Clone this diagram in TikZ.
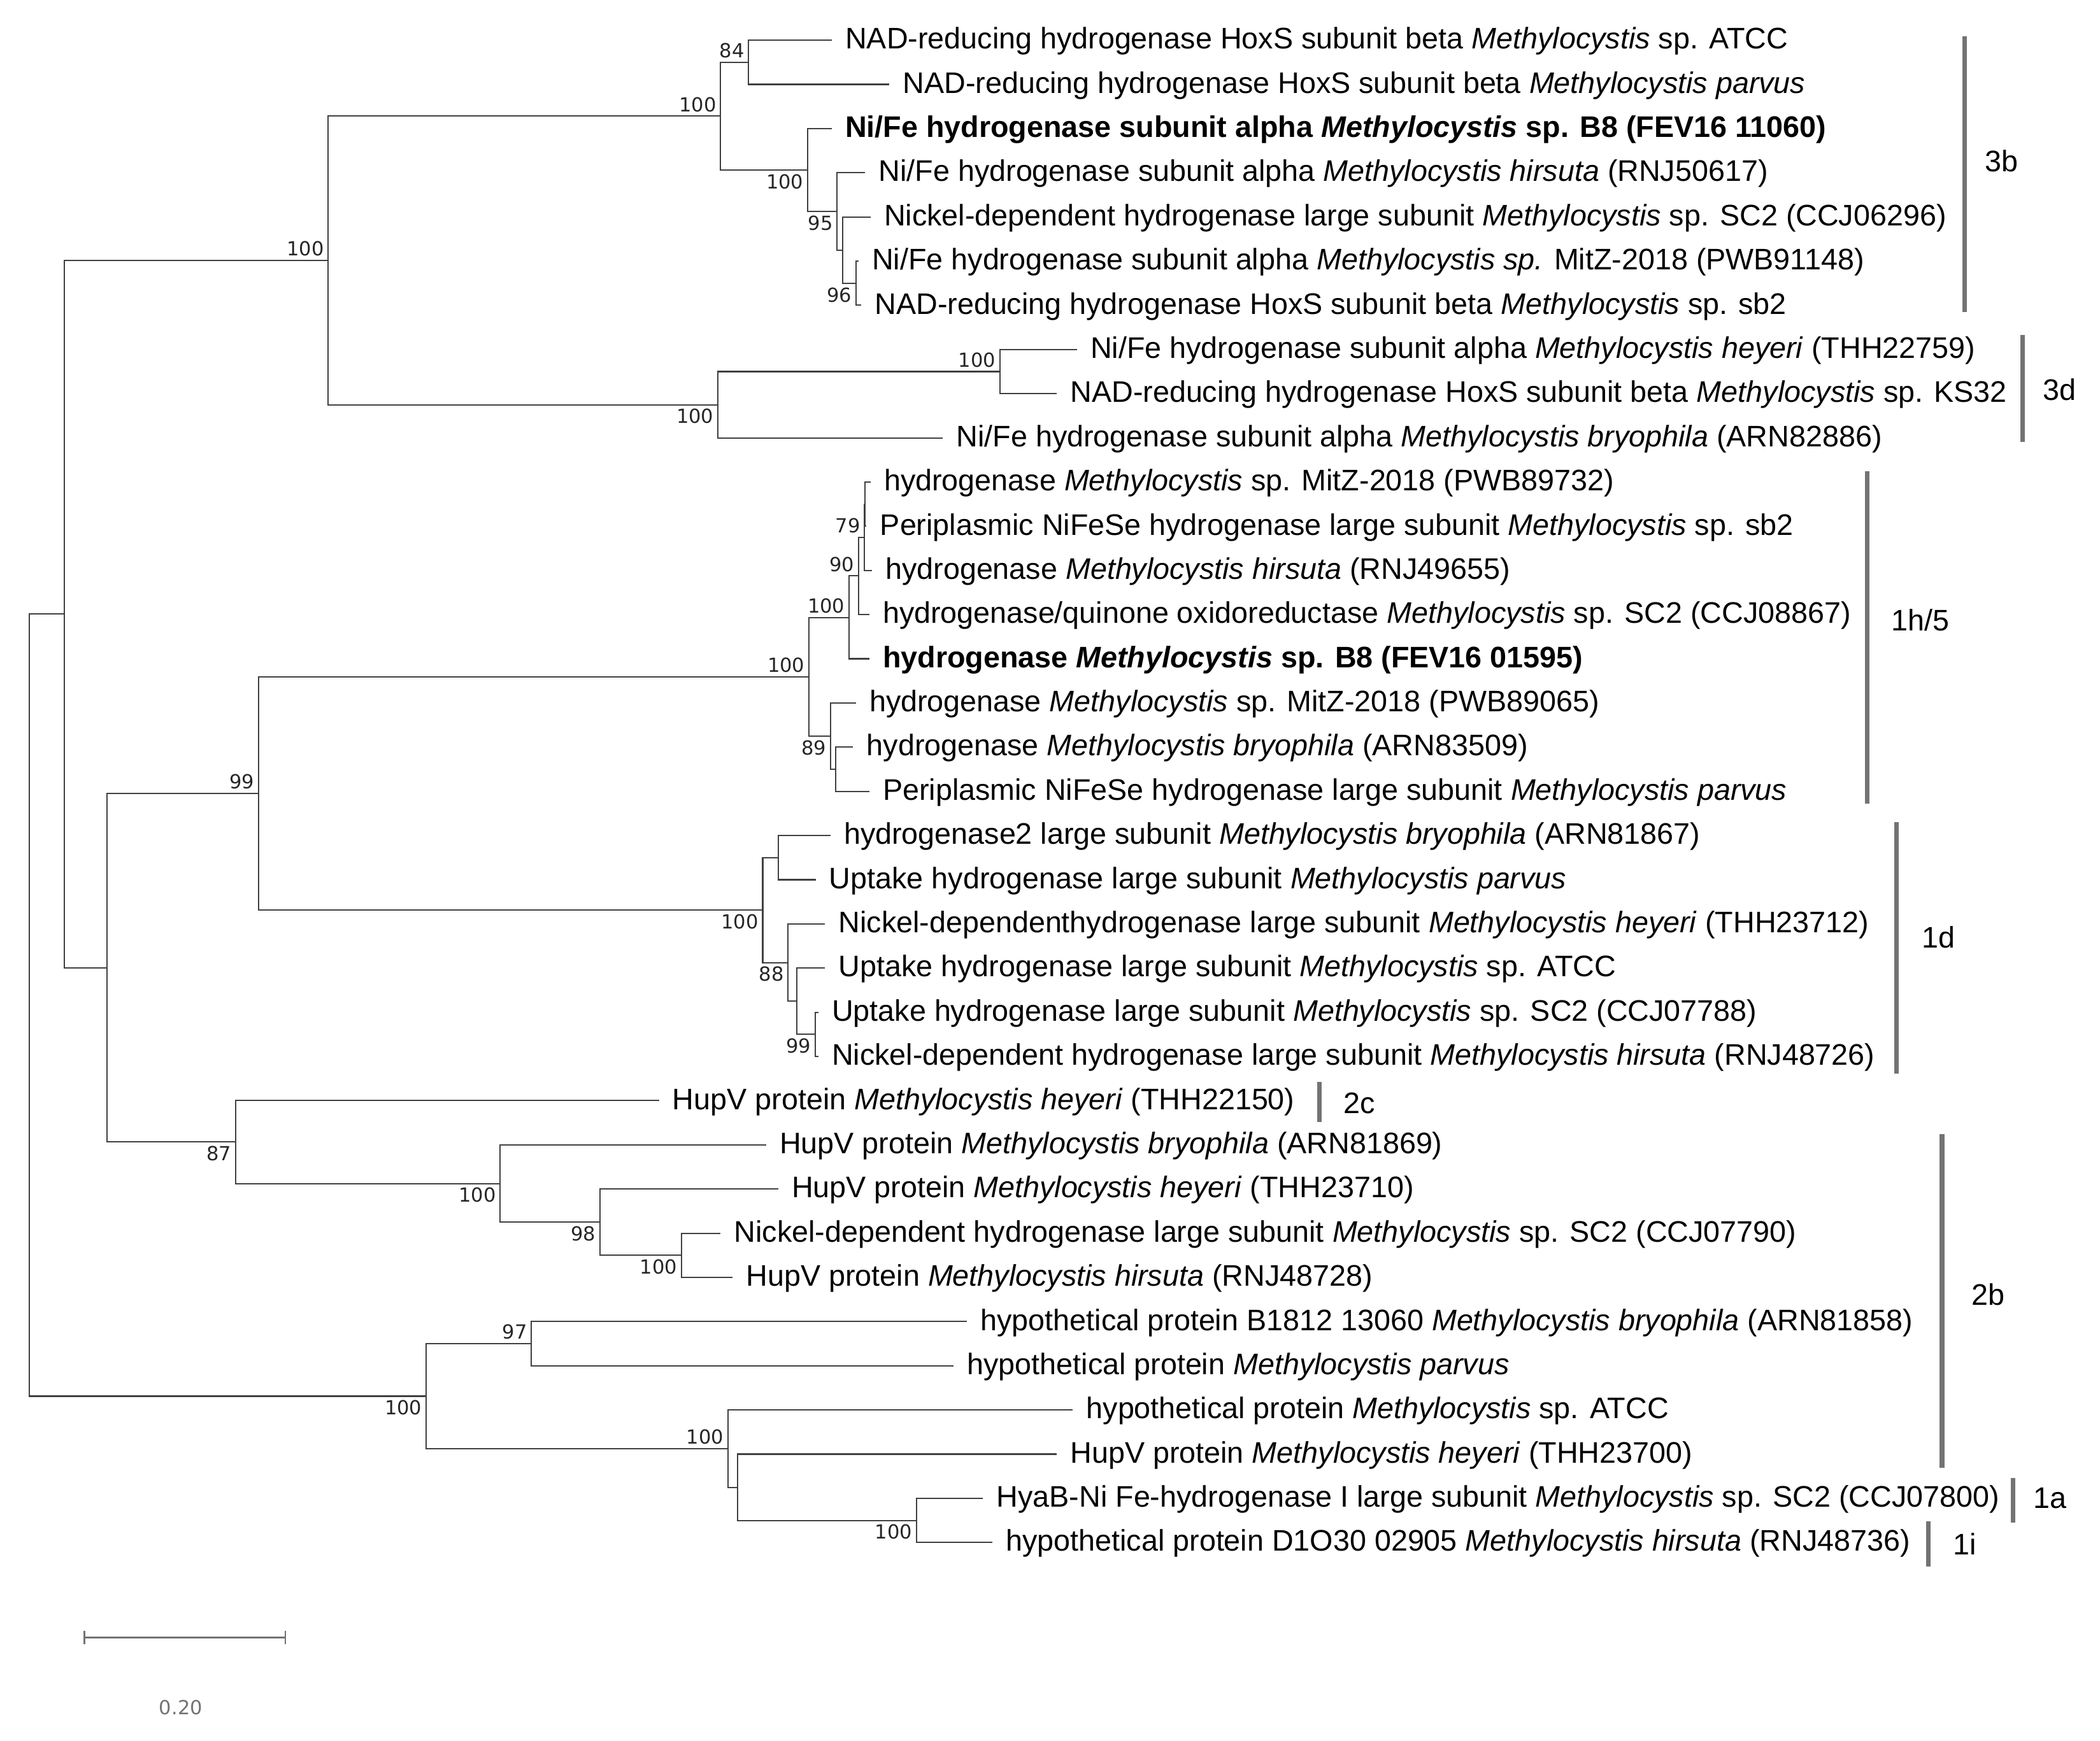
\documentclass[tikz,border=0pt]{standalone}
\usepackage{fontspec}
\setmainfont{Liberation Sans}
\newfontfamily\bsfont{DejaVu Sans}
\tikzset{
    %Define style for branches
    branch/.style={
           draw=black!75,
           line width=1pt},
    %Define style for taxa
    leaf/.style={
           anchor=west,
           inner xsep=10pt, inner ysep=0pt,
           text height=15pt, text depth=2pt,
           font=\fontsize{22.2}{24}\selectfont},
    %Define style for bootstrap values
    bs/.style={
           inner sep=3pt,
           text=black!85,
           font=\bsfont\fontsize{14.5}{16}\selectfont},
    bsa/.style={bs, anchor=south east},
    bsb/.style={bs, anchor=north east},
    % Define style for clade bars
    clade/.style={
           draw=black!55,
           line width=3.4pt},
    cladelab/.style={
           anchor=west, inner sep=0pt,
           font=\fontsize{22.2}{24}\selectfont},
    scalebar/.style={
           draw=black!55,
           line width=1.2pt}
}
\newcommand{\me}{\textit{Methylocystis}}

\begin{document}
\begin{tikzpicture}[x=1pt,y=-1pt]
\useasboundingbox (0,0) rectangle (1568,1300);

 %taxa
\node[leaf] (t1) at (621,30) {NAD-reducing hydrogenase HoxS subunit beta \me{} sp. ATCC};
\node[leaf] (t2) at (664,63) {NAD-reducing hydrogenase HoxS subunit beta \textit{Methylocystis parvus}};
\node[leaf] (t3) at (621,96) {\textbf{Ni/Fe hydrogenase subunit alpha \me{} sp. B8 (FEV16 11060)}};
\node[leaf] (t4) at (646,129) {Ni/Fe hydrogenase subunit alpha \textit{Methylocystis hirsuta} (RNJ50617)};
\node[leaf] (t5) at (650,162) {Nickel-dependent hydrogenase large subunit \me{} sp. SC2 (CCJ06296)};
\node[leaf] (t6) at (641,195) {Ni/Fe hydrogenase subunit alpha \textit{Methylocystis sp.} MitZ-2018 (PWB91148)};
\node[leaf] (t7) at (643,228) {NAD-reducing hydrogenase HoxS subunit beta \me{} sp. sb2};
\node[leaf] (t8) at (804,261) {Ni/Fe hydrogenase subunit alpha \textit{Methylocystis heyeri} (THH22759)};
\node[leaf] (t9) at (789,294) {NAD-reducing hydrogenase HoxS subunit beta \me{} sp. KS32};
\node[leaf] (t10) at (704,327) {Ni/Fe hydrogenase subunit alpha \textit{Methylocystis bryophila} (ARN82886)};
\node[leaf] (t11) at (650,360) {hydrogenase \me{} sp. MitZ-2018 (PWB89732)};
\node[leaf] (t12) at (647,393) {Periplasmic NiFeSe hydrogenase large subunit \me{} sp. sb2};
\node[leaf] (t13) at (651,426) {hydrogenase \textit{Methylocystis hirsuta} (RNJ49655)};
\node[leaf] (t14) at (649,459) {hydrogenase/quinone oxidoreductase \me{} sp. SC2 (CCJ08867)};
\node[leaf] (t15) at (649,492) {\textbf{hydrogenase \me{} sp. B8 (FEV16 01595)}};
\node[leaf] (t16) at (639,525) {hydrogenase \me{} sp. MitZ-2018 (PWB89065)};
\node[leaf] (t17) at (637,558) {hydrogenase \textit{Methylocystis bryophila} (ARN83509)};
\node[leaf] (t18) at (649,591) {Periplasmic NiFeSe hydrogenase large subunit \textit{Methylocystis parvus}};
\node[leaf] (t19) at (620,624) {hydrogenase2 large subunit \textit{Methylocystis bryophila} (ARN81867)};
\node[leaf] (t20) at (609,657) {Uptake hydrogenase large subunit \textit{Methylocystis parvus}};
\node[leaf] (t21) at (616,690) {Nickel-dependenthydrogenase large subunit \textit{Methylocystis heyeri} (THH23712)};
\node[leaf] (t22) at (616,723) {Uptake hydrogenase large subunit \me{} sp. ATCC};
\node[leaf] (t23) at (611,756) {Uptake hydrogenase large subunit \me{} sp. SC2 (CCJ07788)};
\node[leaf] (t24) at (611,789) {Nickel-dependent hydrogenase large subunit \textit{Methylocystis hirsuta} (RNJ48726)};
\node[leaf] (t25) at (492,822) {HupV protein \textit{Methylocystis heyeri} (THH22150)};
\node[leaf] (t26) at (572,855) {HupV protein \textit{Methylocystis bryophila} (ARN81869)};
\node[leaf] (t27) at (581,888) {HupV protein \textit{Methylocystis heyeri} (THH23710)};
\node[leaf] (t28) at (538,921) {Nickel-dependent hydrogenase large subunit \me{} sp. SC2 (CCJ07790)};
\node[leaf] (t29) at (547,954) {HupV protein \textit{Methylocystis hirsuta} (RNJ48728)};
\node[leaf] (t30) at (722,987) {hypothetical protein B1812 13060 \textit{Methylocystis bryophila} (ARN81858)};
\node[leaf] (t31) at (712,1020) {hypothetical protein \textit{Methylocystis parvus}};
\node[leaf] (t32) at (801,1053) {hypothetical protein \me{} sp. ATCC};
\node[leaf] (t33) at (789,1086) {HupV protein \textit{Methylocystis heyeri} (THH23700)};
\node[leaf] (t34) at (734,1119) {HyaB-Ni Fe-hydrogenase I large subunit \me{} sp. SC2 (CCJ07800)};
\node[leaf] (t35) at (741,1152) {hypothetical protein D1O30 02905 \textit{Methylocystis hirsuta} (RNJ48736)};

 %inner nodes
\coordinate (nRoot) at (22,750.6);
\coordinate (nA) at (48,458.6);
\coordinate (nB) at (245,194.5);
\coordinate (nC) at (538,86.7);
\coordinate (n84) at (559,46.5);
\coordinate (nD) at (603,126.9);
\coordinate (nE) at (625,157.9);
\coordinate (nF) at (629,186.8);
\coordinate (nG) at (639,211.5);
\coordinate (nH) at (536,302.3);
\coordinate (nI) at (746.5,277.5);
\coordinate (nW) at (80,722.8);
\coordinate (nV) at (193,592.6);
\coordinate (nJ) at (604,505.4);
\coordinate (nK) at (634,461.1);
\coordinate (nL) at (641,430.1);
\coordinate (nM) at (645.5,401.3);
\coordinate (nN) at (646,376.5);
\coordinate (nO) at (620,549.8);
\coordinate (nP) at (624,574.5);
\coordinate (nQ) at (569.5,679.7);
\coordinate (nQa) at (581,640.5);
\coordinate (nS) at (588.5,718.9);
\coordinate (nT) at (595,747.8);
\coordinate (nU) at (608.7,772.5);
\coordinate (nX) at (176,852.9);
\coordinate (nY) at (373.4,883.9);
\coordinate (nZ) at (448,912.8);
\coordinate (nAA) at (508.7,937.5);
\coordinate (nBB) at (318.2,1042.7);
\coordinate (nCC) at (396.7,1003.5);
\coordinate (nDD) at (543.4,1081.9);
\coordinate (nEE) at (550.7,1110.8);
\coordinate (nFF) at (684.3,1135.5);

 %branches
\foreach \p/\c in {nRoot/nA, nRoot/nBB, nA/nB, nA/nW, nB/nC, nB/nH,
    nC/n84, nC/nD, n84/t1.west, n84/t2.west, nD/t3.west, nD/nE,
    nE/t4.west, nE/nF, nF/t5.west, nF/nG, nG/t6.west, nG/t7.west,
    nH/nI, nH/t10.west, nI/t8.west, nI/t9.west,
    nW/nV, nW/nX, nV/nJ, nV/nQ, nJ/nK, nJ/nO,
    nK/nL, nK/t15.west, nL/nM, nL/t14.west, nM/nN, nM/t13.west,
    nN/t11.west, nN/t12.west, nO/t16.west, nO/nP, nP/t17.west, nP/t18.west,
    nQ/nQa, nQ/nS, nQa/t19.west, nQa/t20.west, nS/t21.west, nS/nT,
    nT/t22.west, nT/nU, nU/t23.west, nU/t24.west,
    nX/t25.west, nX/nY, nY/t26.west, nY/nZ, nZ/t27.west, nZ/nAA,
    nAA/t28.west, nAA/t29.west,
    nBB/nCC, nBB/nDD, nCC/t30.west, nCC/t31.west,
    nDD/t32.west, nDD/nEE, nEE/t33.west, nEE/nFF, nFF/t34.west, nFF/t35.west}
    \draw[branch] (\p) |- (\c);

 %bootstrap values
\node[bsa] (b84) at (n84) {84};
\node[bsa] (bC) at (nC) {100};
\node[bsb] (bD) at (nD) {100};
\node[bsb] (bE) at (nE) {95};
\node[bsb] (bG) at (nG) {96};
\node[bsa] (bB) at (nB) {100};
\node[bsa] (bI) at (nI) {100};
\node[bsb] (bH) at (nH) {100};
\node[bsa] (bM) at (nM) {79};
\node[bsa] (bL) at (nL) {90};
\node[bsa] (bK) at (nK) {100};
\node[bsa] (bJ) at (nJ) {100};
\node[bsb] (bO) at (nO) {89};
\node[bsa] (bV) at (nV) {99};
\node[bsb] (bQ) at (nQ) {100};
\node[bsb] (bS) at (nS) {88};
\node[bsb] (bU) at (nU) {99};
\node[bsb] (bX) at (nX) {87};
\node[bsb] (bY) at (nY) {100};
\node[bsb] (bZ) at (nZ) {98};
\node[bsb] (bAA) at (nAA) {100};
\node[bsb] (bBB) at (nBB) {100};
\node[bsa] (bCC) at (nCC) {97};
\node[bsa] (bDD) at (nDD) {100};
\node[bsb] (bFF) at (nFF) {100};

 %clade bars
\foreach \x/\ya/\yb/\lx/\ly/\t in {1467/27/233/1482/120/3b, 1510/250/330/1525/291/3d,
    1394/352/600/1412/463/1h\slash 5, 1416/614/802/1435/700/1d, 985/808/838/1003/824/2c,
    1450/847/1096/1472/967/2b, 1503/1104/1137/1518/1119/1a, 1440/1136/1170/1458/1153/1i}
  {
    \draw[clade] (\x,\ya) -- (\x,\yb);
    \node[cladelab] at (\lx,\ly) {\t};
  }

 %scale bar
\coordinate (sb0) at (63,1223);
\coordinate (sb1) at (213,1223);
\draw[scalebar] (sb0) -- (sb1);
\draw[scalebar] ([yshift=-5pt]sb0) -- ([yshift=5pt]sb0);
\draw[scalebar] ([yshift=-5pt]sb1) -- ([yshift=5pt]sb1);
\node[bs, text=black!55] (sblab) at (135,1275) {0.20};

\end{tikzpicture}
\end{document}
